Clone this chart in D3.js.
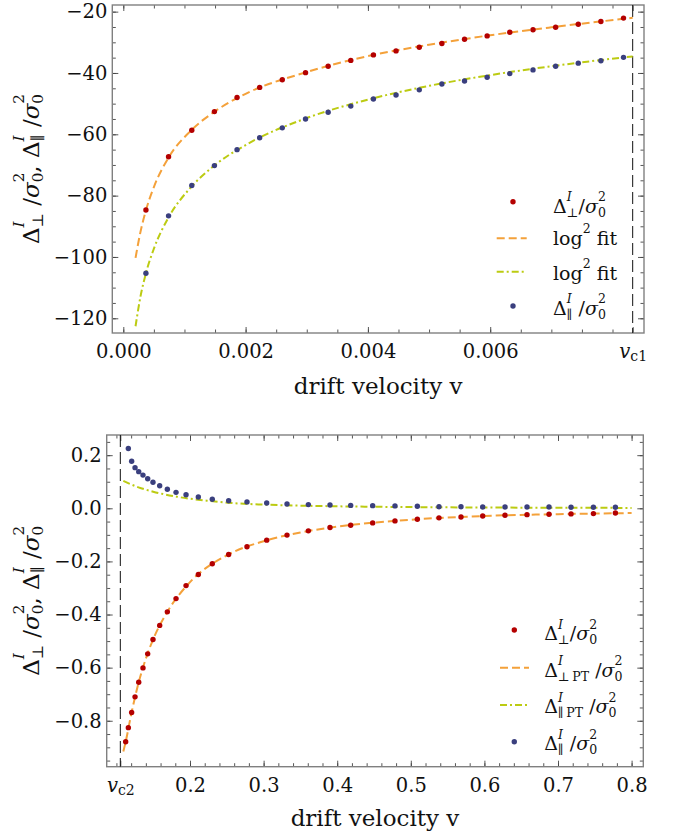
<!DOCTYPE html>
<html><head><meta charset="utf-8">
<script src="https://cdn.jsdelivr.net/npm/d3@7"></script>
<style>body{margin:0;background:#fff} svg{display:block} text{font-family:"DejaVu Serif",serif;fill:#111}</style>
</head><body>
<svg id="c" width="678" height="838"></svg>
<script>
// ---------------- DATA ----------------
const topVelocity = [0.00037,0.00074,0.00112,0.00149,0.00186,0.00223,0.00260,0.00298,0.00335,0.00372,0.00409,0.00446,0.00484,0.00521,0.00558,0.00595,0.00632,0.00670,0.00707,0.00744,0.00781,0.00818];
const topPerp = [-84.7,-67.3,-58.7,-52.6,-48.0,-44.7,-42.2,-39.9,-37.8,-35.9,-34.1,-32.8,-31.6,-30.4,-29.0,-27.9,-26.7,-25.9,-25.1,-24.1,-23.2,-22.1];
const topPar  = [-105.3,-86.6,-76.7,-70.2,-65.0,-61.1,-57.9,-55.0,-52.8,-50.8,-48.5,-47.2,-45.5,-43.6,-42.6,-41.4,-40.2,-39.0,-37.8,-36.8,-36.0,-34.9];
const topFitPerpV = [0.0002,0.00028,0.00037,0.0005,0.00074,0.0011,0.0015,0.002,0.003,0.004,0.005,0.006,0.007,0.00833];
const topFitPerp  = [-100.3,-91.9,-84.8,-77.2,-67.6,-58.9,-52.5,-46.8,-39.7,-34.5,-30.8,-27.7,-25.1,-22.0];
const topFitParV  = [0.0002,0.00028,0.00037,0.0005,0.00074,0.0011,0.0015,0.002,0.003,0.004,0.005,0.006,0.007,0.00833];
const topFitPar   = [-122.6,-113.0,-105.3,-97.3,-87.1,-77.4,-70.0,-63.5,-54.7,-48.7,-44.2,-40.7,-37.8,-34.6];
const vc1 = 0.00833;

const botVelocity = [0.1126,0.1162,0.1207,0.1253,0.1303,0.1361,0.1425,0.1497,0.1588,0.1692,0.1810,0.1946,0.2113,0.2303,0.2525,0.2774,0.3042,0.3318,0.3608,0.3902,0.4183,0.4482,0.4785,0.5089,0.5383,0.5682,0.5977,0.6280,0.6579,0.6878,0.7177,0.7481,0.7780];
const botPerp = [-0.879,-0.826,-0.769,-0.710,-0.655,-0.601,-0.548,-0.494,-0.441,-0.390,-0.340,-0.291,-0.249,-0.209,-0.174,-0.145,-0.120,-0.101,-0.085,-0.0725,-0.064,-0.055,-0.0475,-0.041,-0.036,-0.0325,-0.029,-0.026,-0.024,-0.0225,-0.021,-0.020,-0.0175];
const botPar = [0.225,0.177,0.153,0.138,0.125,0.111,0.098,0.085,0.0715,0.060,0.051,0.0425,0.034,0.0286,0.024,0.020,0.016,0.014,0.0125,0.011,0.010,0.009,0.0075,0.006,0.006,0.005,0.005,0.005,0.005,0.004,0.004,0.004];
const botPTPerpV = [0.1094,0.1126,0.12,0.13,0.14,0.15,0.17,0.2,0.25,0.3,0.35,0.4,0.5,0.6,0.7,0.8];
const botPTPerp  = [-0.916,-0.879,-0.777,-0.658,-0.566,-0.493,-0.386,-0.278,-0.177,-0.124,-0.091,-0.069,-0.043,-0.029,-0.022,-0.018];
const botPTParV  = [0.1094,0.13,0.15,0.182,0.2272,0.2516,0.3,0.35,0.4,0.5,0.6,0.7,0.8];
const botPTPar   = [0.103,0.079,0.0626,0.0437,0.0275,0.021,0.014,0.010,0.0075,0.0045,0.003,0.002,0.0015];
const vc2 = 0.1053;

const topXMajor = [0,0.002,0.004,0.006];
const topYMajor = [-120,-100,-80,-60,-40,-20];
const botXMajor = [0.2,0.3,0.4,0.5,0.6,0.7,0.8];
const botYMajor = [-0.8,-0.6,-0.4,-0.2,0.0,0.2];

// ---------------- STYLE ----------------
const C = {red:"#b40000", blue:"#3a3f7e", orange:"#f4a13a", green:"#bccb12", frame:"#808080", tick:"#444"};
const svg = d3.select("#c");
const TF = 19.5, LF = 23, GF = 19;

function mathText(g, pieces, fs){
  let x = 0;
  pieces.forEach(p=>{
    if(p.stack){
      let w = 0;
      if(p.sup!==undefined){
        const t = g.append("text").attr("x",x).attr("y",-0.62*fs).attr("font-size",0.66*fs)
          .attr("font-style",p.supI?"italic":"normal").text(p.sup);
        w = Math.max(w, t.node().getComputedTextLength());
      }
      if(p.sub!==undefined){
        const t = g.append("text").attr("x",x).attr("y",0.2*fs).attr("font-size",0.66*fs)
          .attr("font-style","normal").style("white-space","pre").text(p.sub);
        w = Math.max(w, t.node().getComputedTextLength());
      }
      x += w;
    } else {
      const t = g.append("text").attr("x",x).attr("y",0).attr("font-size",fs)
        .attr("font-style",p.i?"italic":"normal").style("white-space","pre").text(p.t);
      x += t.node().getComputedTextLength();
    }
  });
  return x;
}
function deltaOver(sub, space){
  return [{t:"Δ"},{stack:true,sup:"I",supI:true,sub:sub},{t:(space?" /":"/")},{t:"σ",i:true},{stack:true,sub:"0",sup:"2"}];
}

function panel(o){
  const g = svg.append("g");
  const [x0,x1] = o.x.range(), [y0,y1] = o.y.range();
  const styleAxis = a => { a.select(".domain").remove(); a.selectAll(".tick line").attr("stroke",C.tick).attr("stroke-width",0.9); a.selectAll("text").attr("font-family","DejaVu Serif").attr("font-size",TF).attr("fill","#111"); };
  const mk = (axisFn, scale, vals, size, fmt, pad) => axisFn(scale).tickValues(vals).tickSize(size).tickPadding(pad||0).tickFormat(fmt||"");
  g.append("g").attr("transform",`translate(0,${y0})`).call(mk(d3.axisBottom,o.x,o.xMinor,-3.5)).call(styleAxis);
  const xb = g.append("g").attr("transform",`translate(0,${y0})`).call(mk(d3.axisBottom,o.x,o.xMajorAll,-6,o.xFmt,11)).call(styleAxis);
  g.append("g").attr("transform",`translate(0,${y1})`).call(mk(d3.axisTop,o.x,o.xMinor,-3.5)).call(styleAxis);
  g.append("g").attr("transform",`translate(0,${y1})`).call(mk(d3.axisTop,o.x,o.xMajorAll,-6)).call(styleAxis);
  g.append("g").attr("transform",`translate(${x0},0)`).call(mk(d3.axisLeft,o.y,o.yMinor,-3.5)).call(styleAxis);
  g.append("g").attr("transform",`translate(${x0},0)`).call(mk(d3.axisLeft,o.y,o.yMajor,-6,o.yFmt,5)).call(styleAxis);
  g.append("g").attr("transform",`translate(${x1},0)`).call(mk(d3.axisRight,o.y,o.yMinor,-3.5)).call(styleAxis);
  g.append("g").attr("transform",`translate(${x1},0)`).call(mk(d3.axisRight,o.y,o.yMajor,-6)).call(styleAxis);
  xb.selectAll(".tick text").filter(d=>d===o.vc).each(function(){
    const t = d3.select(this); t.text(null);
    t.append("tspan").attr("font-style","italic").text("v");
    t.append("tspan").attr("font-size",TF*0.72).attr("dy","0.25em").text(o.vcName);
  });
  g.append("rect").attr("x",x0).attr("y",y1).attr("width",x1-x0).attr("height",y0-y1)
    .attr("fill","none").attr("stroke",C.frame).attr("stroke-width",1.4);
  g.append("line").attr("x1",o.x(o.vc)).attr("x2",o.x(o.vc)).attr("y1",y1).attr("y2",y0)
    .attr("stroke","#111").attr("stroke-width",1).attr("stroke-dasharray","12,5");
  const line = (vx, vy) => d3.line().x((d,i)=>o.x(vx[i])).y(d=>o.y(d)).curve(d3.curveMonotoneX)(vy);
  g.append("path").attr("d",line(o.fitPerpV,o.fitPerp)).attr("fill","none").attr("stroke",C.orange).attr("stroke-width",2).attr("stroke-dasharray","8,4");
  g.append("path").attr("d",line(o.fitParV,o.fitPar)).attr("fill","none").attr("stroke",C.green).attr("stroke-width",2).attr("stroke-dasharray","7,3,2,3");
  g.append("g").selectAll("circle").data(o.perp).join("circle")
    .attr("cx",(d,i)=>o.x(o.perpV[i])).attr("cy",d=>o.y(d)).attr("r",2.7).attr("fill",C.red);
  g.append("g").selectAll("circle").data(o.par).join("circle")
    .attr("cx",(d,i)=>o.x(o.parV[i])).attr("cy",d=>o.y(d)).attr("r",2.7).attr("fill",C.blue);
  g.append("text").attr("x",(x0+x1)/2).attr("y",o.xLabelY).attr("text-anchor","middle").attr("font-size",LF).text("drift velocity v");
  const yl = g.append("g").attr("transform",`translate(${o.yLabelX},${(y0+y1)/2}) rotate(-90)`);
  const inner = yl.append("g");
  const w = mathText(inner, [...deltaOver("⊥",true),{t:", "},...deltaOver("∥",true)], LF);
  inner.attr("transform",`translate(${-w/2},0)`);
  const L = o.legend;
  L.rows.forEach((r,k)=>{
    const cy = L.cy[k];
    if(r.kind==="dot") g.append("circle").attr("cx",L.symX).attr("cy",cy).attr("r",2.7).attr("fill",r.color);
    else g.append("line").attr("x1",L.lineX[0]).attr("x2",L.lineX[1]).attr("y1",cy).attr("y2",cy)
      .attr("stroke",r.color).attr("stroke-width",2).attr("stroke-dasharray",r.dash);
    const tg = g.append("g").attr("transform",`translate(${L.textX},${L.base[k]})`);
    mathText(tg, r.label, GF);
  });
}

const topX = d3.scaleLinear([-0.00018,0.008515],[112.3,644]);
const topY = d3.scaleLinear([-124.8,-17.83],[333,5]);
panel({
  x: topX, y: topY, vc: vc1, vcName:"c1",
  xMinor: d3.range(0,0.00801,0.0005), xMajorAll: [...topXMajor, vc1], xFmt: d=> d===vc1 ? "" : d3.format(".3f")(d),
  yMinor: d3.range(-120,-19,5), yMajor: topYMajor, yFmt: d3.format("d"),
  perpV: topVelocity, perp: topPerp, parV: topVelocity, par: topPar,
  fitPerpV: topFitPerpV, fitPerp: topFitPerp, fitParV: topFitParV, fitPar: topFitPar,
  xLabelY: 394, yLabelX: 38.5,
  legend: { symX: 513, lineX:[496.7,526.7], textX: 553, cy:[201.7,238.3,271.7,306], base:[212.7,245,280,315],
    rows: [
      {kind:"dot", color:C.red, label: deltaOver("⊥",false)},
      {kind:"line", color:C.orange, dash:"8,4", label:[{t:"log"},{stack:true,sup:"2"},{t:" fit"}]},
      {kind:"line", color:C.green, dash:"7,3,2,3", label:[{t:"log"},{stack:true,sup:"2"},{t:" fit"}]},
      {kind:"dot", color:C.blue, label: deltaOver("∥",true)}
    ]}
});

const botX = d3.scaleLinear([0.0868,0.8159],[106.7,643.3]);
const botY = d3.scaleLinear([-0.973,0.276],[766.7,435]);
panel({
  x: botX, y: botY, vc: vc2, vcName:"c2",
  xMinor: d3.range(0.1,0.801,0.02), xMajorAll: [vc2, ...botXMajor], xFmt: d=> d===vc2 ? "" : d3.format(".1f")(d),
  yMinor: d3.range(-0.95,0.26,0.05), yMajor: botYMajor, yFmt: d3.format(".1f"),
  perpV: botVelocity, perp: botPerp, parV: botVelocity.slice(1), par: botPar,
  fitPerpV: botPTPerpV, fitPerp: botPTPerp, fitParV: botPTParV, fitPar: botPTPar,
  xLabelY: 826, yLabelX: 38.5,
  legend: { symX: 514.3, lineX:[500,529], textX: 544.3, cy:[630,667.7,705,741.7], base:[640.3,677,713.3,750.3],
    rows: [
      {kind:"dot", color:C.red, label: deltaOver("⊥",false)},
      {kind:"line", color:C.orange, dash:"8,4", label: deltaOver("⊥\u2009PT",true)},
      {kind:"line", color:C.green, dash:"7,3,2,3", label: deltaOver("∥\u2009PT",true)},
      {kind:"dot", color:C.blue, label: deltaOver("∥",true)}
    ]}
});
</script>
</body></html>
